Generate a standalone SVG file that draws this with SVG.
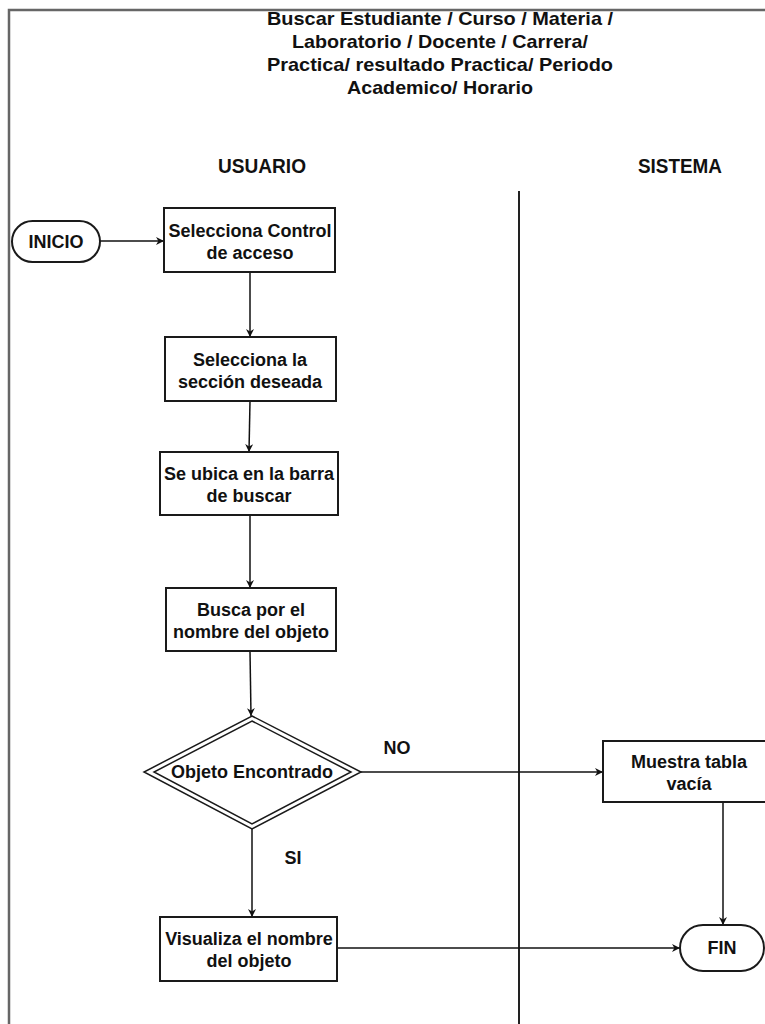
<svg xmlns="http://www.w3.org/2000/svg" width="765" height="1024" viewBox="0 0 765 1024">
  <defs>
    <marker id="arrow" viewBox="0 0 10 10" refX="10" refY="5" markerWidth="8" markerHeight="8" orient="auto" markerUnits="userSpaceOnUse">
      <path d="M0,0 L10,5 L0,10 L3,5 Z" fill="#111"/>
    </marker>
    <style>
      .box { fill: #fff; stroke: #1a1a1a; stroke-width: 2; }
      .txt { font-family: "Liberation Sans", Arial, sans-serif; font-weight: bold; font-size: 18px; fill: #111; text-anchor: middle; }
      .title { font-family: "Liberation Sans", Arial, sans-serif; font-weight: bold; font-size: 19px; fill: #111; text-anchor: middle; }
      .lane { font-family: "Liberation Sans", Arial, sans-serif; font-weight: bold; font-size: 20px; fill: #111; text-anchor: middle; }
      .edge { fill: none; stroke: #111; stroke-width: 1.5; }
    </style>
  </defs>

  <rect width="765" height="1024" fill="#fff"/>

  <!-- outer frame and lane divider -->
  <path d="M9,1024 V10 H765" fill="none" stroke="#666" stroke-width="2.5"/>
  <line x1="519" y1="191" x2="519" y2="1024" stroke="#222" stroke-width="2"/>

  <!-- title -->
  <g id="title">
    <text class="title" x="440" y="25" textLength="346" lengthAdjust="spacingAndGlyphs">Buscar Estudiante / Curso / Materia /</text>
    <text class="title" x="440" y="48" textLength="296" lengthAdjust="spacingAndGlyphs">Laboratorio / Docente / Carrera/</text>
    <text class="title" x="440" y="71" textLength="346" lengthAdjust="spacingAndGlyphs">Practica/ resultado Practica/ Periodo</text>
    <text class="title" x="440" y="94" textLength="186" lengthAdjust="spacingAndGlyphs">Academico/ Horario</text>
  </g>

  <!-- lane headers -->
  <g id="lane-usuario"><text class="lane" x="262" y="173" textLength="88" lengthAdjust="spacingAndGlyphs">USUARIO</text></g>
  <g id="lane-sistema"><text class="lane" x="680" y="173" textLength="84" lengthAdjust="spacingAndGlyphs">SISTEMA</text></g>

  <!-- connectors -->
  <g id="connectors">
    <line class="edge" x1="100" y1="241" x2="164" y2="241" marker-end="url(#arrow)"/>
    <line class="edge" x1="250" y1="272" x2="250" y2="337" marker-end="url(#arrow)"/>
    <line class="edge" x1="250" y1="401" x2="249" y2="452" marker-end="url(#arrow)"/>
    <line class="edge" x1="250" y1="515" x2="250" y2="588" marker-end="url(#arrow)"/>
    <line class="edge" x1="250" y1="651" x2="251" y2="716" marker-end="url(#arrow)"/>
    <line class="edge" x1="361" y1="772" x2="603" y2="772" marker-end="url(#arrow)"/>
    <line class="edge" x1="252" y1="829" x2="252" y2="917" marker-end="url(#arrow)"/>
    <line class="edge" x1="723" y1="802" x2="723" y2="925" marker-end="url(#arrow)"/>
    <line class="edge" x1="337" y1="948" x2="680" y2="948" marker-end="url(#arrow)"/>
    <text class="txt" x="397" y="754">NO</text>
    <text class="txt" x="293" y="864">SI</text>
  </g>

  <!-- start -->
  <g id="inicio">
    <rect class="box" x="12" y="221" width="88" height="41" rx="20.5" ry="20.5"/>
    <text class="txt" x="56" y="248">INICIO</text>
  </g>

  <g id="selecciona-control">
    <rect class="box" x="164" y="208" width="171" height="64"/>
    <text class="txt" x="250" y="237">Selecciona Control</text>
    <text class="txt" x="250" y="259">de acceso</text>
  </g>

  <g id="selecciona-seccion">
    <rect class="box" x="165" y="337" width="171" height="64"/>
    <text class="txt" x="250" y="366">Selecciona la</text>
    <text class="txt" x="250" y="388">sección deseada</text>
  </g>

  <g id="barra-buscar">
    <rect class="box" x="160" y="452" width="178" height="63"/>
    <text class="txt" x="249" y="480">Se ubica en la barra</text>
    <text class="txt" x="249" y="502">de buscar</text>
  </g>

  <g id="busca-nombre">
    <rect class="box" x="166" y="588" width="170" height="63"/>
    <text class="txt" x="251" y="616">Busca por el</text>
    <text class="txt" x="251" y="638">nombre del objeto</text>
  </g>

  <!-- decision -->
  <g id="objeto-encontrado">
    <polygon points="252,716 361,772 252,829 144,772" fill="#fff" stroke="#1a1a1a" stroke-width="1.5"/>
    <polygon points="252,721 351,772 252,824 154,772" fill="none" stroke="#1a1a1a" stroke-width="1.5"/>
    <text class="txt" x="252" y="778">Objeto Encontrado</text>
  </g>

  <g id="muestra-tabla">
    <rect class="box" x="603" y="741" width="170" height="61"/>
    <text class="txt" x="689" y="768">Muestra tabla</text>
    <text class="txt" x="689" y="790">vacía</text>
  </g>

  <g id="visualiza-nombre">
    <rect class="box" x="160" y="917" width="177" height="64"/>
    <text class="txt" x="249" y="945">Visualiza el nombre</text>
    <text class="txt" x="249" y="967">del objeto</text>
  </g>

  <!-- end -->
  <g id="fin">
    <rect class="box" x="680" y="925" width="84" height="46" rx="23" ry="23"/>
    <text class="txt" x="722" y="954">FIN</text>
  </g>
</svg>
